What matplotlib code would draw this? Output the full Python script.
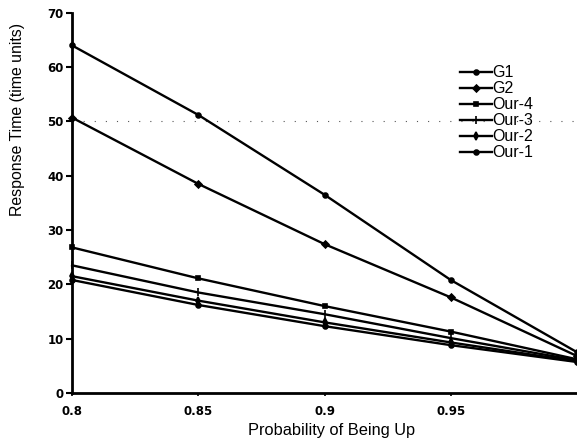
import matplotlib
matplotlib.use('Agg')
import matplotlib.pyplot as plt

plt.rcParams['font.family'] = ['Liberation Sans', 'DejaVu Sans']

prob = [0.8, 0.85, 0.9, 0.95, 1.0]
g1 = [64.0, 51.2, 36.5, 20.8, 7.5]
g2 = [50.7, 38.5, 27.4, 17.6, 6.8]
our4 = [26.8, 21.1, 16.0, 11.3, 6.2]
our3 = [23.5, 18.5, 14.5, 10.1, 6.0]
our2 = [21.5, 17.0, 13.0, 9.3, 5.8]
our1 = [20.8, 16.2, 12.3, 8.8, 5.7]

names = ['G1', 'G2', 'Our-4', 'Our-3', 'Our-2', 'Our-1']
series = [g1, g2, our4, our3, our2, our1]
markers = ['o', 'D', 's', '|', 'd', 'o']
msizes = [3.5, 3.5, 3.5, 6, 4, 3.5]

fig = plt.figure(figsize=(5.77, 4.44), dpi=100)
ax = fig.add_axes([0.125, 0.115, 0.875, 0.856])

# scan leftovers of a grid line
ax.axhline(50, color='#555555', lw=0.8, ls=(0, (1, 9)), zorder=0)

for name, ys, m, ms in zip(names, series, markers, msizes):
    ax.plot(prob, ys, color='black', lw=1.7, marker=m, ms=ms,
            mew=1.2, label=name, clip_on=False)

ax.set_xlim(0.8, 1.0)
ax.set_ylim(0, 70)
ax.set_xticks([0.8, 0.85, 0.9, 0.95])
ax.set_xticklabels(['0.8', '0.85', '0.9', '0.95'])
ax.set_yticks(range(0, 71, 10))
for lab in ax.get_xticklabels() + ax.get_yticklabels():
    lab.set_family('DejaVu Sans')
    lab.set_fontweight('bold')
    lab.set_fontsize(8.5)
ax.tick_params(axis='y', direction='out', length=4, width=1.5, pad=2)
ax.tick_params(axis='x', direction='out', length=2, width=1.2, pad=7)
ax.spines['top'].set_visible(False)
ax.spines['right'].set_visible(False)
ax.spines['left'].set_linewidth(2)
ax.spines['bottom'].set_linewidth(2)

ax.set_xlabel('Probability of Being Up', fontsize=11.8)
ax.xaxis.set_label_coords(0.513, -0.08)
ax.set_ylabel('Response Time (time units)', fontsize=11.4,
              family=['Liberation Sans Narrow', 'Liberation Sans'])
ax.yaxis.set_label_coords(-0.093, 0.72)

ax.legend(loc='upper left', bbox_to_anchor=(0.768, 0.862), frameon=False,
          fontsize=11.5, handlelength=2.0, handletextpad=0.05,
          labelspacing=0.06, borderaxespad=0, borderpad=0)

fig.savefig('out.png', dpi=100)
